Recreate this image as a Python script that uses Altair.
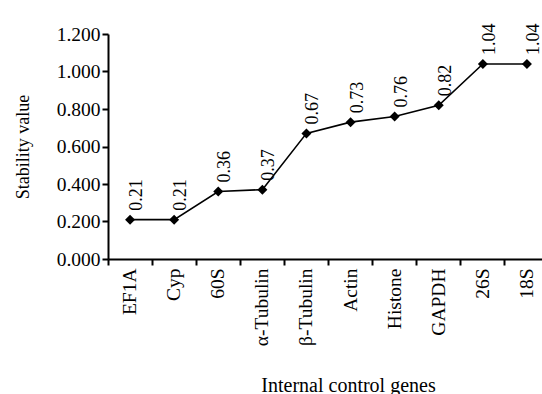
import altair as alt
import pandas as pd

genes = ["EF1A", "Cyp", "60S", "α-Tubulin", "β-Tubulin", "Actin", "Histone", "GAPDH", "26S", "18S"]
values = [0.21, 0.21, 0.36, 0.37, 0.67, 0.73, 0.76, 0.82, 1.04, 1.04]
y_ticks = [0.0, 0.2, 0.4, 0.6, 0.8, 1.0, 1.2]

df = pd.DataFrame({"gene": genes, "value": values,
                   "label": [f"{v:.2f}" for v in values]})

FONT = "Liberation Serif"

x = alt.X("gene:N", sort=genes,
          scale=alt.Scale(type="band", range=[0, 441], paddingInner=0, paddingOuter=0),
          axis=alt.Axis(title="Internal control genes", labelAngle=-90, labelFontSize=19.5,
                        labelFont=FONT, labelColor="black", labelPadding=3,
                        tickSize=6, tickWidth=2, tickColor="black",
                        domainWidth=2, domainColor="black",
                        bandPosition=0,
                        titleFont=FONT, titleFontSize=20, titleFontWeight="normal",
                        titleColor="black", titleX=240, titleY=126,
                        titleBaseline="middle", titleAlign="center"))
y = alt.Y("value:Q",
          scale=alt.Scale(domain=[0, 1.2], nice=False, zero=True),
          axis=alt.Axis(title="Stability value", values=y_ticks, format=".3f",
                        labelFontSize=19.5, labelFont=FONT, labelColor="black",
                        labelPadding=2, tickSize=6, tickWidth=2, tickColor="black",
                        domainWidth=2, domainColor="black", grid=False,
                        titleFont=FONT, titleFontSize=18, titleFontWeight="normal",
                        titleColor="black", titlePadding=24))

base = alt.Chart(df).encode(x=x, y=y)

line = base.mark_line(color="black", strokeWidth=1.6)
pts = base.mark_point(shape="diamond", filled=True, color="black", size=100, opacity=1)
txt = base.mark_text(angle=270, align="left", baseline="middle", dx=9, dy=7,
                     fontSize=18, font=FONT, color="black").encode(text="label:N")

chart = (line + pts + txt).properties(
    width=434, height=225,
    autosize=alt.AutoSizeParams(type="none"),
    padding={"left": 108, "top": 34, "right": 0, "bottom": 135},
    background="white",
).configure_view(stroke=None)

chart.save("out.html", embed_options={"renderer": "svg", "actions": False})
